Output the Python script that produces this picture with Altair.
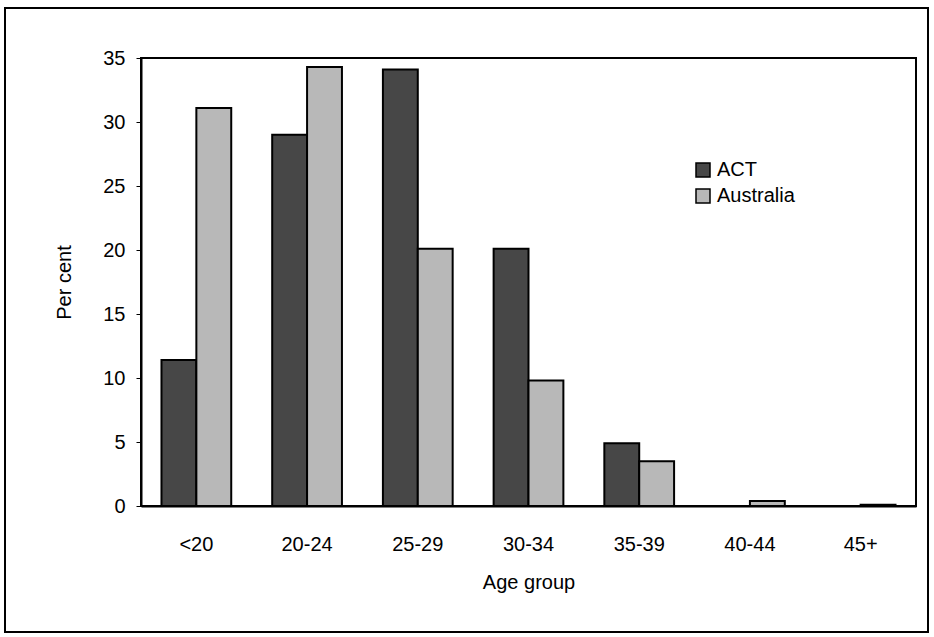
import altair as alt
import pandas as pd

# Share of births by mother's age group, ACT vs Australia (per cent)
age_groups = ["<20", "20-24", "25-29", "30-34", "35-39", "40-44", "45+"]
act_pct = [11.4, 29.0, 34.1, 20.1, 4.9, 0.0, 0.0]
aus_pct = [31.1, 34.3, 20.1, 9.8, 3.5, 0.4, 0.1]
series = ["ACT", "Australia"]
y_ticks = [0, 5, 10, 15, 20, 25, 30, 35]

rows = []
for g, a, b in zip(age_groups, act_pct, aus_pct):
    rows.append({"group": g, "region": series[0], "pct": a})
    rows.append({"group": g, "region": series[1], "pct": b})
df = pd.DataFrame(rows)

FONT = "Liberation Sans"
FS = 20
W, H = 775, 448

bars = alt.Chart(df).mark_bar(stroke="black", strokeWidth=2).encode(
    x=alt.X(
        "group:N",
        sort=age_groups,
        scale=alt.Scale(paddingInner=0.37, paddingOuter=0.185),
        axis=alt.Axis(
            title="Age group",
            labelAngle=0,
            ticks=False,
            labelPadding=28,
            titlePadding=18,
            domainColor="black",
            domainWidth=2,
        ),
    ),
    xOffset=alt.XOffset("region:N", sort=series),
    y=alt.Y(
        "pct:Q",
        scale=alt.Scale(domain=[0, 35], nice=False),
        axis=alt.Axis(
            title="Per cent",
            values=y_ticks,
            grid=False,
            tickSize=5,
            tickColor="black",
            labelPadding=11,
            titlePadding=28,
            domainColor="black",
            domainWidth=2,
        ),
    ),
    fill=alt.Fill(
        "region:N",
        sort=series,
        scale=alt.Scale(domain=series, range=["#474747", "#b8b8b8"]),
        legend=alt.Legend(
            title=None,
            orient="none",
            legendX=552,
            legendY=102,
            symbolType="square",
            symbolSize=196,
            symbolStrokeColor="black",
            symbolStrokeWidth=1.5,
            labelFontSize=FS,
            labelFont=FONT,
            labelColor="black",
            rowPadding=6,
            labelOffset=4,
        ),
    ),
)

# page border around the whole figure
frame = alt.Chart(df).mark_rect(
    fill=None, stroke="black", strokeWidth=1.2
).encode(
    x=alt.value(-136), x2=alt.value(787), y=alt.value(-50), y2=alt.value(574)
)

chart = (
    alt.layer(bars, frame)
    .properties(
        width=W,
        height=H,
        background="white",
        autosize=alt.AutoSizeParams(type="none"),
        padding={"left": 141, "top": 58, "right": 18, "bottom": 131},
    )
    .configure_view(stroke="black", strokeWidth=2)
    .configure_axis(
        labelFont=FONT,
        titleFont=FONT,
        labelFontSize=FS,
        titleFontSize=FS,
        titleFontWeight="normal",
        labelColor="black",
        titleColor="black",
    )
)

chart.save("out.html", embed_options={"renderer": "svg", "actions": False})
